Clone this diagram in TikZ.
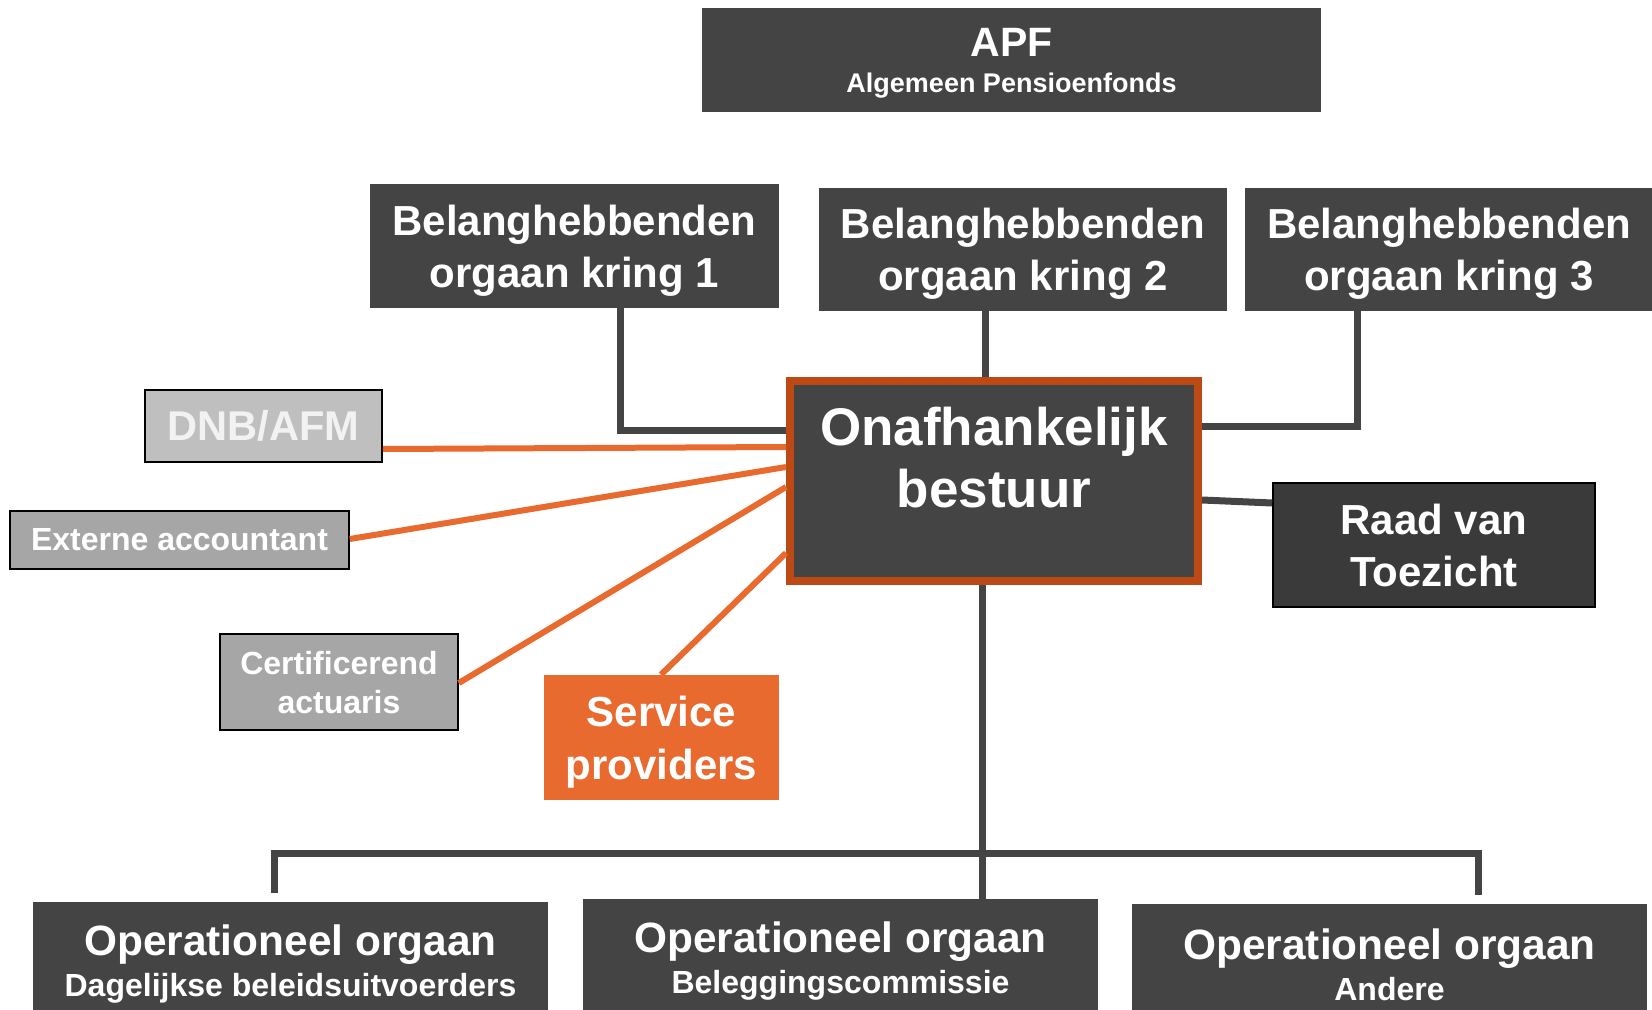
\documentclass[tikz,border=0pt]{standalone}
\usepackage{fontspec}
\setmainfont{Liberation Sans}
\definecolor{darkfill}{HTML}{444444}
\definecolor{raadfill}{HTML}{3A3A3A}
\definecolor{lightfill}{HTML}{BFBFBF}
\definecolor{midfill}{HTML}{A6A6A6}
\definecolor{apforange}{HTML}{E96A2F}
\definecolor{rimorange}{HTML}{BD4A14}
\newcommand\fs[2]{\fontsize{#1}{#2}\selectfont}
\tikzset{
  darkbox/.style={fill=darkfill,text=white,font=\bfseries,align=center,inner sep=0pt},
  greybox/.style={draw=black,line width=0.8pt,text=white,font=\bfseries,align=center,inner sep=0pt},
  link/.style={draw=darkfill,line width=3.5pt},
  olink/.style={draw=apforange,line width=3pt}
}
\begin{document}
\begin{tikzpicture}[x=0.5pt,y=-0.5pt]
\useasboundingbox (0,0) rectangle (1652,1010);
\clip (0,0) rectangle (1652,1010);

% top
\node[darkbox,minimum width=309.5pt,minimum height=52pt,font=\bfseries\fs{13.5}{17.9},text depth=-9.4pt] (apf) at (1011.5,60)
  {{\fs{20.5}{17.9}APF}\\Algemeen Pensioenfonds};

\node[darkbox,minimum width=204.5pt,minimum height=62pt,font=\bfseries\fs{21}{26},text depth=-1pt] (k1) at (574.5,246) {Belanghebbenden\\orgaan kring 1};
\node[darkbox,minimum width=204pt,minimum height=61.5pt,font=\bfseries\fs{21}{26},text depth=0pt] (k2) at (1023,249.5) {Belanghebbenden\\orgaan kring 2};
\node[darkbox,minimum width=204pt,minimum height=61.5pt,font=\bfseries\fs{21}{26},text depth=0pt] (k3) at (1449,249.5) {Belanghebbenden\\orgaan kring 3};

% centre
\node[darkbox,draw=rimorange,line width=4pt,minimum width=204pt,minimum height=100pt,
  font=\bfseries\fs{26.5}{31},text depth=24pt] (bestuur) at (994,481) {Onafhankelijk\\bestuur};
\node[greybox,fill=raadfill,minimum width=161pt,minimum height=62pt,font=\bfseries\fs{21}{26}] (raad) at (1434,545) {Raad van\\Toezicht};

% left
\node[greybox,fill=lightfill,minimum width=118.5pt,minimum height=36pt,font=\bfseries\fs{20.8}{24},text=white!95!black] (dnb) at (263.5,426) {DNB/AFM};
\node[greybox,fill=midfill,minimum width=169.5pt,minimum height=29pt,font=\bfseries\fs{16}{19}] (ext) at (179.5,540) {Externe accountant};
\node[greybox,fill=midfill,minimum width=119pt,minimum height=48pt,font=\bfseries\fs{16}{19.5},text depth=-0.5pt] (cert) at (339,682) {Certificerend\\actuaris};
\node[darkbox,fill=apforange,minimum width=117.5pt,minimum height=62.5pt,font=\bfseries\fs{21}{26.5},text depth=-3pt] (sp) at (661.5,737.5) {Service\\providers};

% bottom
\node[darkbox,minimum width=257.5pt,minimum height=60pt,font=\bfseries\fs{16}{20.5},text depth=1.3pt] (op1) at (290.5,962) {{\fs{21.2}{20.5}Operationeel orgaan}\\Dagelijkse beleidsuitvoerders};
\node[darkbox,minimum width=257.5pt,minimum height=60pt,font=\bfseries\fs{16}{20.5},text depth=1.3pt] (op2) at (840.5,959) {{\fs{21.2}{20.5}Operationeel orgaan}\\Beleggingscommissie};
\node[darkbox,minimum width=257.5pt,minimum height=61pt,font=\bfseries\fs{16}{20.5}] (op3) at (1389.5,965) {{\fs{21.2}{20.5}Operationeel orgaan}\\Andere};

% grey links
\draw[link] (k1.south -| 620,0) |- (bestuur.west |- 0,430);
\draw[link] (k2.south -| 985,0) -- (bestuur.north -| 985,0);
\draw[link] (k3.south -| 1357,0) |- (bestuur.east |- 0,426);
\draw[link] (bestuur.east |- 0,500) -- (raad.west |- 0,503);
\draw[link] (bestuur.south -| 982,0) -- (op2.north -| 982,0);
\coordinate (barl) at (274,853);
\coordinate (barr) at (1478,853);
\draw[link,shorten <=4.5pt,shorten >=4.5pt] (barl |- op1.north) -- (barl) -- (barr) -- (barr |- op3.north);

% orange links
\draw[olink] (dnb.east |- 0,449) -- (bestuur.west |- 0,447);
\draw[olink] (ext.east |- 0,539) -- (bestuur.west |- 0,467);
\draw[olink] (cert.east |- 0,683) -- (bestuur.west |- 0,487);
\draw[olink] (sp.north -| 661,0) -- (bestuur.west |- 0,553);
\end{tikzpicture}
\end{document}
